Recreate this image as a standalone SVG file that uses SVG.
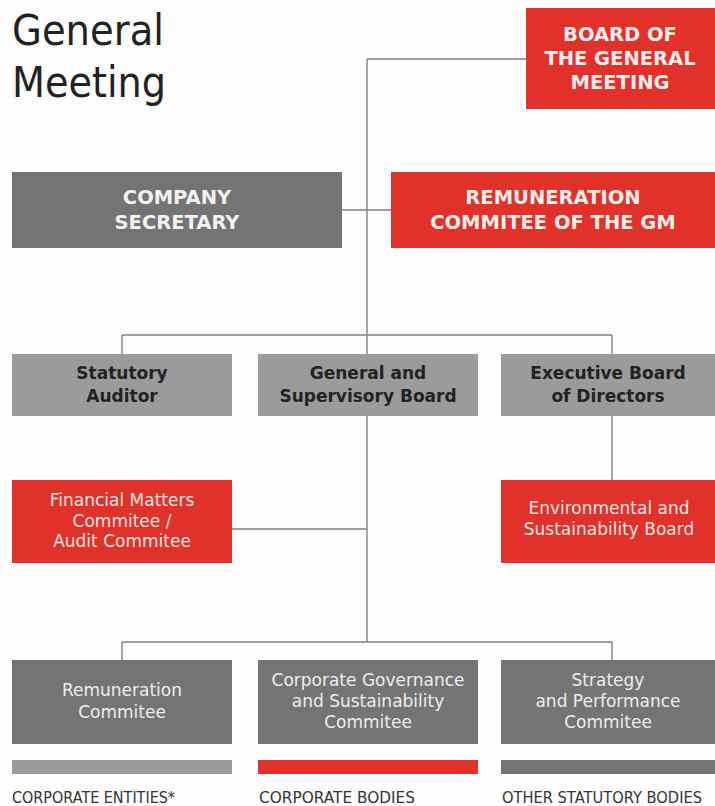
<svg xmlns="http://www.w3.org/2000/svg" width="715" height="806" viewBox="0 0 715 806">
<style>
.red{fill:#e1312b}
.dark{fill:#747474}
.light{fill:#9b9b9b}
.t{font-family:"DejaVu Sans","Verdana",sans-serif;text-anchor:middle}
.caps{font-size:19.5px;font-weight:bold;fill:#fbeeea}
.b2{font-size:17px;font-weight:bold;fill:#222222}
.reg{font-size:17px;fill:#f6e6e2}
.regd{font-size:17px;fill:#eeeeee}
.title{font-family:"DejaVu Sans",sans-serif;font-size:43px;fill:#222222}
.leg{font-family:"DejaVu Sans",sans-serif;font-size:15.5px;fill:#333333}
.conn line{stroke:#7f7f7f;stroke-width:1.4;fill:none}
</style>
<rect width="715" height="806" fill="#fefefe"/>
<g id="title">
<text class="title" x="12" y="45" textLength="152" lengthAdjust="spacingAndGlyphs">General</text>
<text class="title" x="12" y="97" textLength="154" lengthAdjust="spacingAndGlyphs">Meeting</text>
</g>
<g id="connectors" class="conn">
<line x1="367" y1="59" x2="367" y2="642"/>
<line x1="367" y1="59" x2="526" y2="59"/>
<line x1="342" y1="210" x2="391" y2="210"/>
<line x1="122" y1="335" x2="612" y2="335"/>
<line x1="122" y1="335" x2="122" y2="354"/>
<line x1="612" y1="335" x2="612" y2="354"/>
<line x1="612" y1="416" x2="612" y2="480"/>
<line x1="232" y1="529" x2="367" y2="529"/>
<line x1="122" y1="642" x2="612" y2="642"/>
<line x1="122" y1="642" x2="122" y2="660"/>
<line x1="612" y1="642" x2="612" y2="660"/>
</g>
<g id="board-gm">
<rect class="red" x="526" y="8" width="189" height="101"/>
<text class="t caps" x="620" y="41">BOARD OF</text>
<text class="t caps" x="620" y="65">THE GENERAL</text>
<text class="t caps" x="620" y="89">MEETING</text>
</g>
<g id="company-secretary">
<rect class="dark" x="12" y="172" width="330" height="76"/>
<text class="t caps" x="177" y="204" style="fill:#f2f2f2">COMPANY</text>
<text class="t caps" x="177" y="229" style="fill:#f2f2f2">SECRETARY</text>
</g>
<g id="remuneration-gm">
<rect class="red" x="391" y="172" width="324" height="76"/>
<text class="t caps" x="553" y="204">REMUNERATION</text>
<text class="t caps" x="553" y="229">COMMITEE OF THE GM</text>
</g>
<g id="statutory-auditor">
<rect class="light" x="12" y="354" width="220" height="62"/>
<text class="t b2" x="122" y="379">Statutory</text>
<text class="t b2" x="122" y="402">Auditor</text>
</g>
<g id="general-supervisory-board">
<rect class="light" x="258" y="354" width="220" height="62"/>
<text class="t b2" x="368" y="379">General and</text>
<text class="t b2" x="368" y="402">Supervisory Board</text>
</g>
<g id="executive-board">
<rect class="light" x="501" y="354" width="214" height="62"/>
<text class="t b2" x="608" y="379">Executive Board</text>
<text class="t b2" x="608" y="402">of Directors</text>
</g>
<g id="financial-matters">
<rect class="red" x="12" y="480" width="220" height="83"/>
<text class="t reg" x="122" y="506">Financial Matters</text>
<text class="t reg" x="122" y="527">Commitee /</text>
<text class="t reg" x="122" y="547">Audit Commitee</text>
</g>
<g id="environmental-board">
<rect class="red" x="501" y="480" width="214" height="83"/>
<text class="t reg" x="609" y="514">Environmental and</text>
<text class="t reg" x="609" y="535">Sustainability Board</text>
</g>
<g id="remuneration-commitee">
<rect class="dark" x="12" y="660" width="220" height="84"/>
<text class="t regd" x="122" y="696">Remuneration</text>
<text class="t regd" x="122" y="718">Commitee</text>
</g>
<g id="corporate-governance">
<rect class="dark" x="258" y="660" width="220" height="84"/>
<text class="t regd" x="368" y="686">Corporate Governance</text>
<text class="t regd" x="368" y="707">and Sustainability</text>
<text class="t regd" x="368" y="728">Commitee</text>
</g>
<g id="strategy-performance">
<rect class="dark" x="501" y="660" width="214" height="84"/>
<text class="t regd" x="608" y="686">Strategy</text>
<text class="t regd" x="608" y="707">and Performance</text>
<text class="t regd" x="608" y="728">Commitee</text>
</g>
<g id="legend">
<rect class="light" x="12" y="760" width="220" height="14"/>
<rect class="red" x="258" y="760" width="220" height="14"/>
<rect class="dark" x="501" y="760" width="214" height="14"/>
<text class="leg" x="12" y="803" textLength="163" lengthAdjust="spacingAndGlyphs">CORPORATE ENTITIES*</text>
<text class="leg" x="259" y="803" textLength="156" lengthAdjust="spacingAndGlyphs">CORPORATE BODIES</text>
<text class="leg" x="502" y="803" textLength="200" lengthAdjust="spacingAndGlyphs">OTHER STATUTORY BODIES</text>
</g>
</svg>
